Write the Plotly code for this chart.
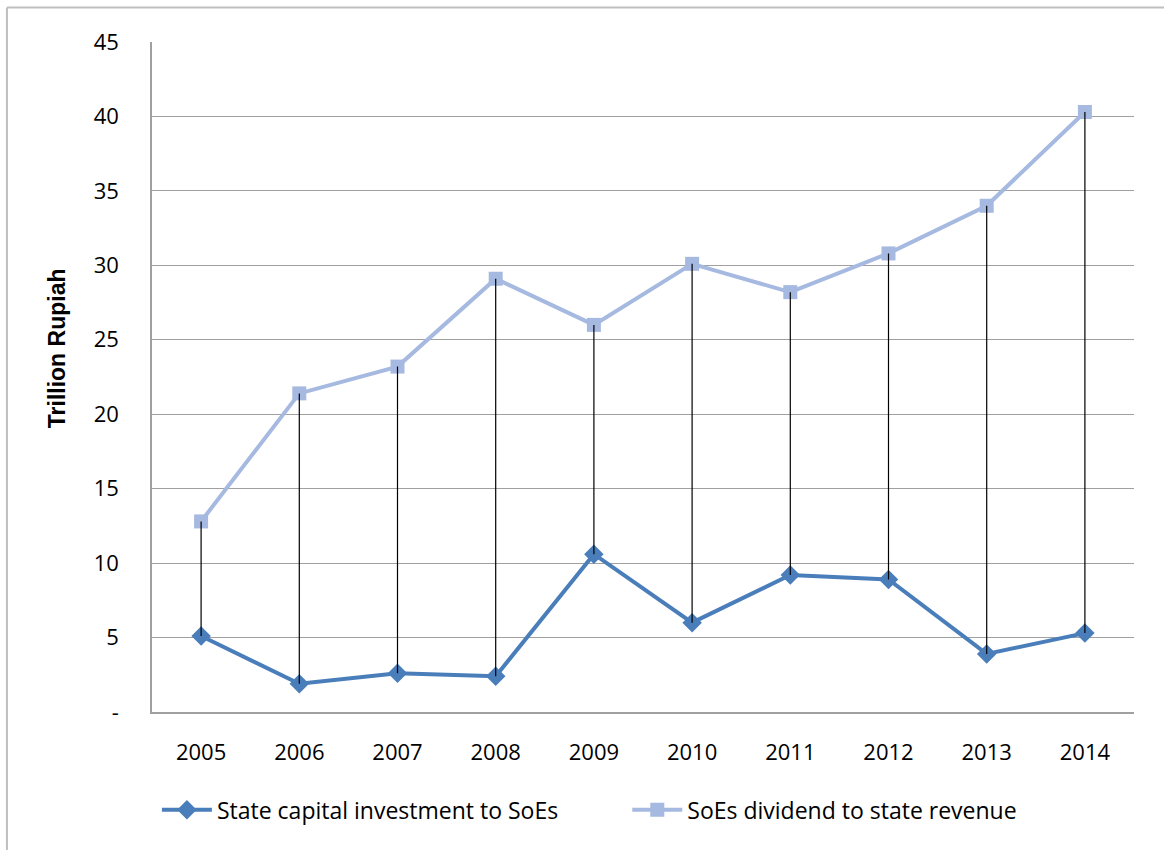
import plotly.graph_objects as go

years = ["2005", "2006", "2007", "2008", "2009", "2010", "2011", "2012", "2013", "2014"]
capital_investment = [5.1, 1.9, 2.6, 2.4, 10.6, 6.0, 9.2, 8.9, 3.9, 5.3]
soe_dividend = [12.8, 21.4, 23.2, 29.1, 26.0, 30.1, 28.2, 30.8, 34.0, 40.3]
y_tick_vals = [0, 5, 10, 15, 20, 25, 30, 35, 40, 45]
y_tick_text = ["-", "5", "10", "15", "20", "25", "30", "35", "40", "45"]

CAPITAL_COLOR = "#4A7EBB"
DIVIDEND_COLOR = "#A6B9E0"
FONT = "Open Sans, Liberation Sans, sans-serif"

fig = go.Figure()

fig.add_trace(go.Scatter(
    x=years, y=capital_investment, mode="lines+markers",
    name="State capital investment to SoEs", legend="legend",
    line=dict(color=CAPITAL_COLOR, width=4),
    marker=dict(symbol="diamond", size=15, color=CAPITAL_COLOR),
))
fig.add_trace(go.Scatter(
    x=years, y=soe_dividend, mode="lines+markers",
    name="SoEs dividend to state revenue", legend="legend2",
    line=dict(color=DIVIDEND_COLOR, width=4),
    marker=dict(symbol="square", size=14, color=DIVIDEND_COLOR),
))

# high-low connectors between the two series for each year
hl_x, hl_y = [], []
for yr, lo, hi in zip(years, capital_investment, soe_dividend):
    hl_x += [yr, yr, None]
    hl_y += [lo, hi, None]
fig.add_trace(go.Scatter(
    x=hl_x, y=hl_y, mode="lines", showlegend=False, hoverinfo="skip",
    line=dict(color="black", width=1.2),
))

legend_style = dict(
    orientation="h", y=-0.146, yanchor="middle", xanchor="left",
    font=dict(family=FONT, size=23, color="black"),
    itemwidth=50, bgcolor="rgba(0,0,0,0)",
)

fig.update_layout(
    width=1164, height=850,
    margin=dict(l=152, r=30, t=42, b=138, autoexpand=False),
    paper_bgcolor="white", plot_bgcolor="white",
    font=dict(family=FONT, size=22, color="black"),
    showlegend=True,
    legend=dict(x=0.005, **legend_style),
    legend2=dict(x=0.484, **legend_style),
    xaxis=dict(
        type="category", range=[-0.5, 9.5], showgrid=False, showline=True,
        linecolor="#A0A0A0", linewidth=1.5, ticks="", ticklabelstandoff=20,
        tickfont=dict(family=FONT, size=22),
    ),
    yaxis=dict(
        range=[0, 45], tickvals=y_tick_vals, ticktext=y_tick_text,
        showgrid=True, gridcolor="#A0A0A0", gridwidth=1.2,
        showline=True, linecolor="#A0A0A0", linewidth=1.5,
        ticks="", ticklabelstandoff=27, zeroline=False,
        tickfont=dict(family=FONT, size=22),
    ),
    annotations=[
        dict(text="<b>Trillion Rupiah</b>", textangle=-90, showarrow=False,
             xref="paper", yref="paper", x=-0.0967, y=0.543,
             xanchor="center", yanchor="middle",
             font=dict(family="Liberation Sans, Arial, sans-serif", size=23, color="black")),
    ],
    shapes=[
        dict(type="line", xref="paper", yref="paper",
             x0=-0.1477, x1=1.1, y0=1.0515, y1=1.0515,
             line=dict(color="#BFBFBF", width=2)),
        dict(type="line", xref="paper", yref="paper",
             x0=-0.1477, x1=-0.1477, y0=1.0515, y1=-0.3,
             line=dict(color="#BFBFBF", width=2)),
    ],
)

fig.write_html("out.html")
